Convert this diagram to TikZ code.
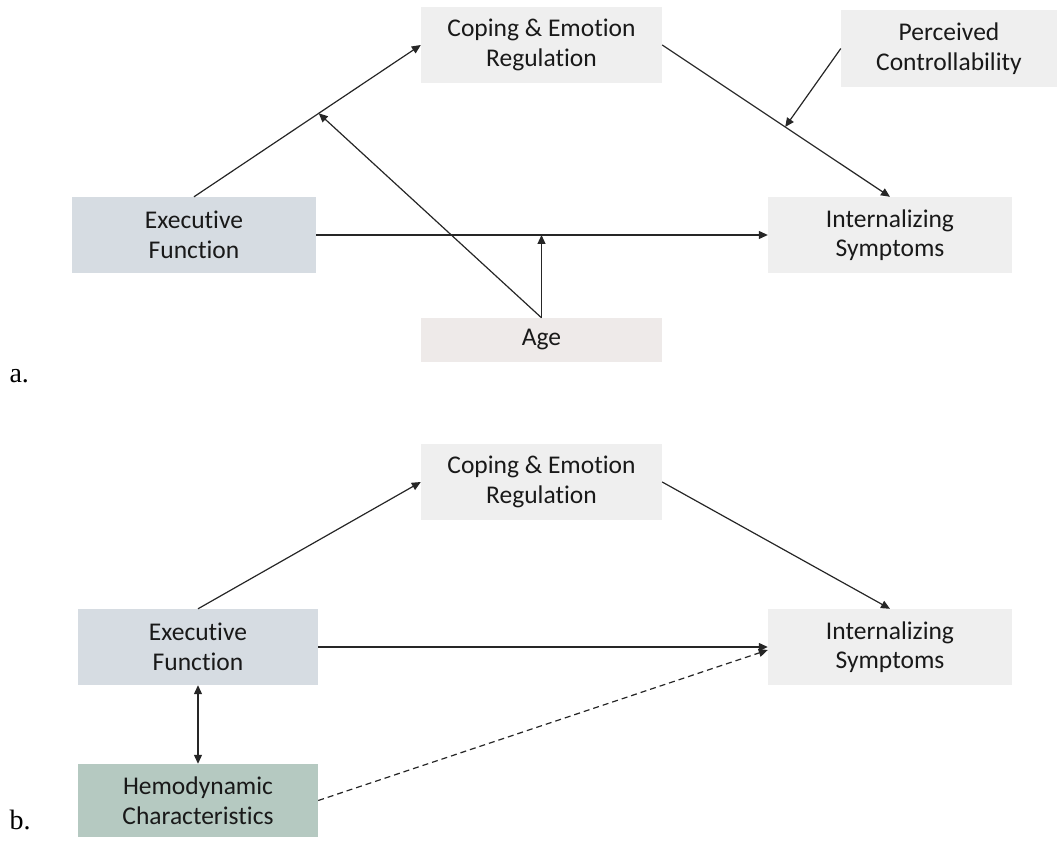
\documentclass[tikz,border=0pt]{standalone}
\usepackage{fontspec}
\setmainfont{Carlito}[RawFeature={-liga;-dlig;-clig}]
\newfontfamily\labelfont{Liberation Serif}
\usetikzlibrary{arrows.meta,calc}

\definecolor{efblue}{HTML}{D6DCE2}
\definecolor{lightgray}{HTML}{EFEFEF}
\definecolor{agegray}{HTML}{EEEAE9}
\definecolor{hemogreen}{HTML}{B5C9C1}

\tikzset{
  box/.style={rectangle, draw=none, align=center, inner sep=0pt,
    font=\fontsize{25.5}{29.5}\selectfont, text=black!90},
  link/.style={line width=1.2pt, black!85, -{Triangle[length=9pt,width=8pt]}},
  twoway/.style={line width=1.2pt, black!85, {Triangle[length=9pt,width=8pt]}-{Triangle[length=9pt,width=8pt]}},
  dashlink/.style={link, dash pattern=on 6pt off 4pt},
  panel/.style={anchor=west, font=\labelfont\fontsize{28}{32}\selectfont}
}

\begin{document}
\begin{tikzpicture}[x=1pt, y=-1pt]
  \useasboundingbox (0,0) rectangle (1057,858);

  % Panel a: moderated mediation model
  \node[box, fill=efblue, minimum width=244pt, minimum height=76pt] (efA) at (194,235) {Executive\\Function};
  \node[box, fill=lightgray, minimum width=241pt, minimum height=76pt] (copA) at (541.5,45) {Coping \& Emotion\\Regulation};
  \node[box, fill=lightgray, minimum width=216pt, minimum height=77pt] (perc) at (949,48.5) {Perceived\\Controllability};
  \node[box, fill=lightgray, minimum width=244pt, minimum height=76pt] (intA) at (890,235) {Internalizing\\Symptoms};
  \node[box, fill=agegray, minimum width=241pt, minimum height=44pt] (age) at (541.5,340) {Age};

  \coordinate (modA) at ($(efA.north)!0.55!(copA.west)$);
  \coordinate (modC) at ($(copA.east)!0.54!(intA.north)$);
  \coordinate (modD) at (age.north |- efA.east);

  \draw[link] (efA.north) -- (copA.west);
  \draw[link] (copA.east) -- (intA.north);
  \draw[link] (efA.east) -- (intA.west);
  \draw[link] (perc.west) -- (modC);
  \draw[link] (age.north) -- (modA);
  \draw[link] (age.north) -- (modD);

  \node[panel] (labA) at (6,376) {a.};

  % Panel b: hemodynamic extension
  \node[box, fill=lightgray, minimum width=241pt, minimum height=76pt] (copB) at (541.5,482) {Coping \& Emotion\\Regulation};
  \node[box, fill=efblue, minimum width=240pt, minimum height=76pt] (efB) at (198,647) {Executive\\Function};
  \node[box, fill=lightgray, minimum width=244pt, minimum height=76pt] (intB) at (890,647) {Internalizing\\Symptoms};
  \node[box, fill=hemogreen, minimum width=240pt, minimum height=73pt] (hemo) at (198,800.5) {Hemodynamic\\Characteristics};

  \coordinate (intBlow) at ($(intB.west)+(0,3)$);

  \draw[link] (efB.north) -- (copB.west);
  \draw[link] (copB.east) -- (intB.north);
  \draw[link] (efB.east) -- (intB.west);
  \draw[twoway] (efB.south) -- (hemo.north);
  \draw[dashlink] (hemo.east) -- (intBlow);

  \node[panel] (labB) at (6,820) {b.};
\end{tikzpicture}
\end{document}
